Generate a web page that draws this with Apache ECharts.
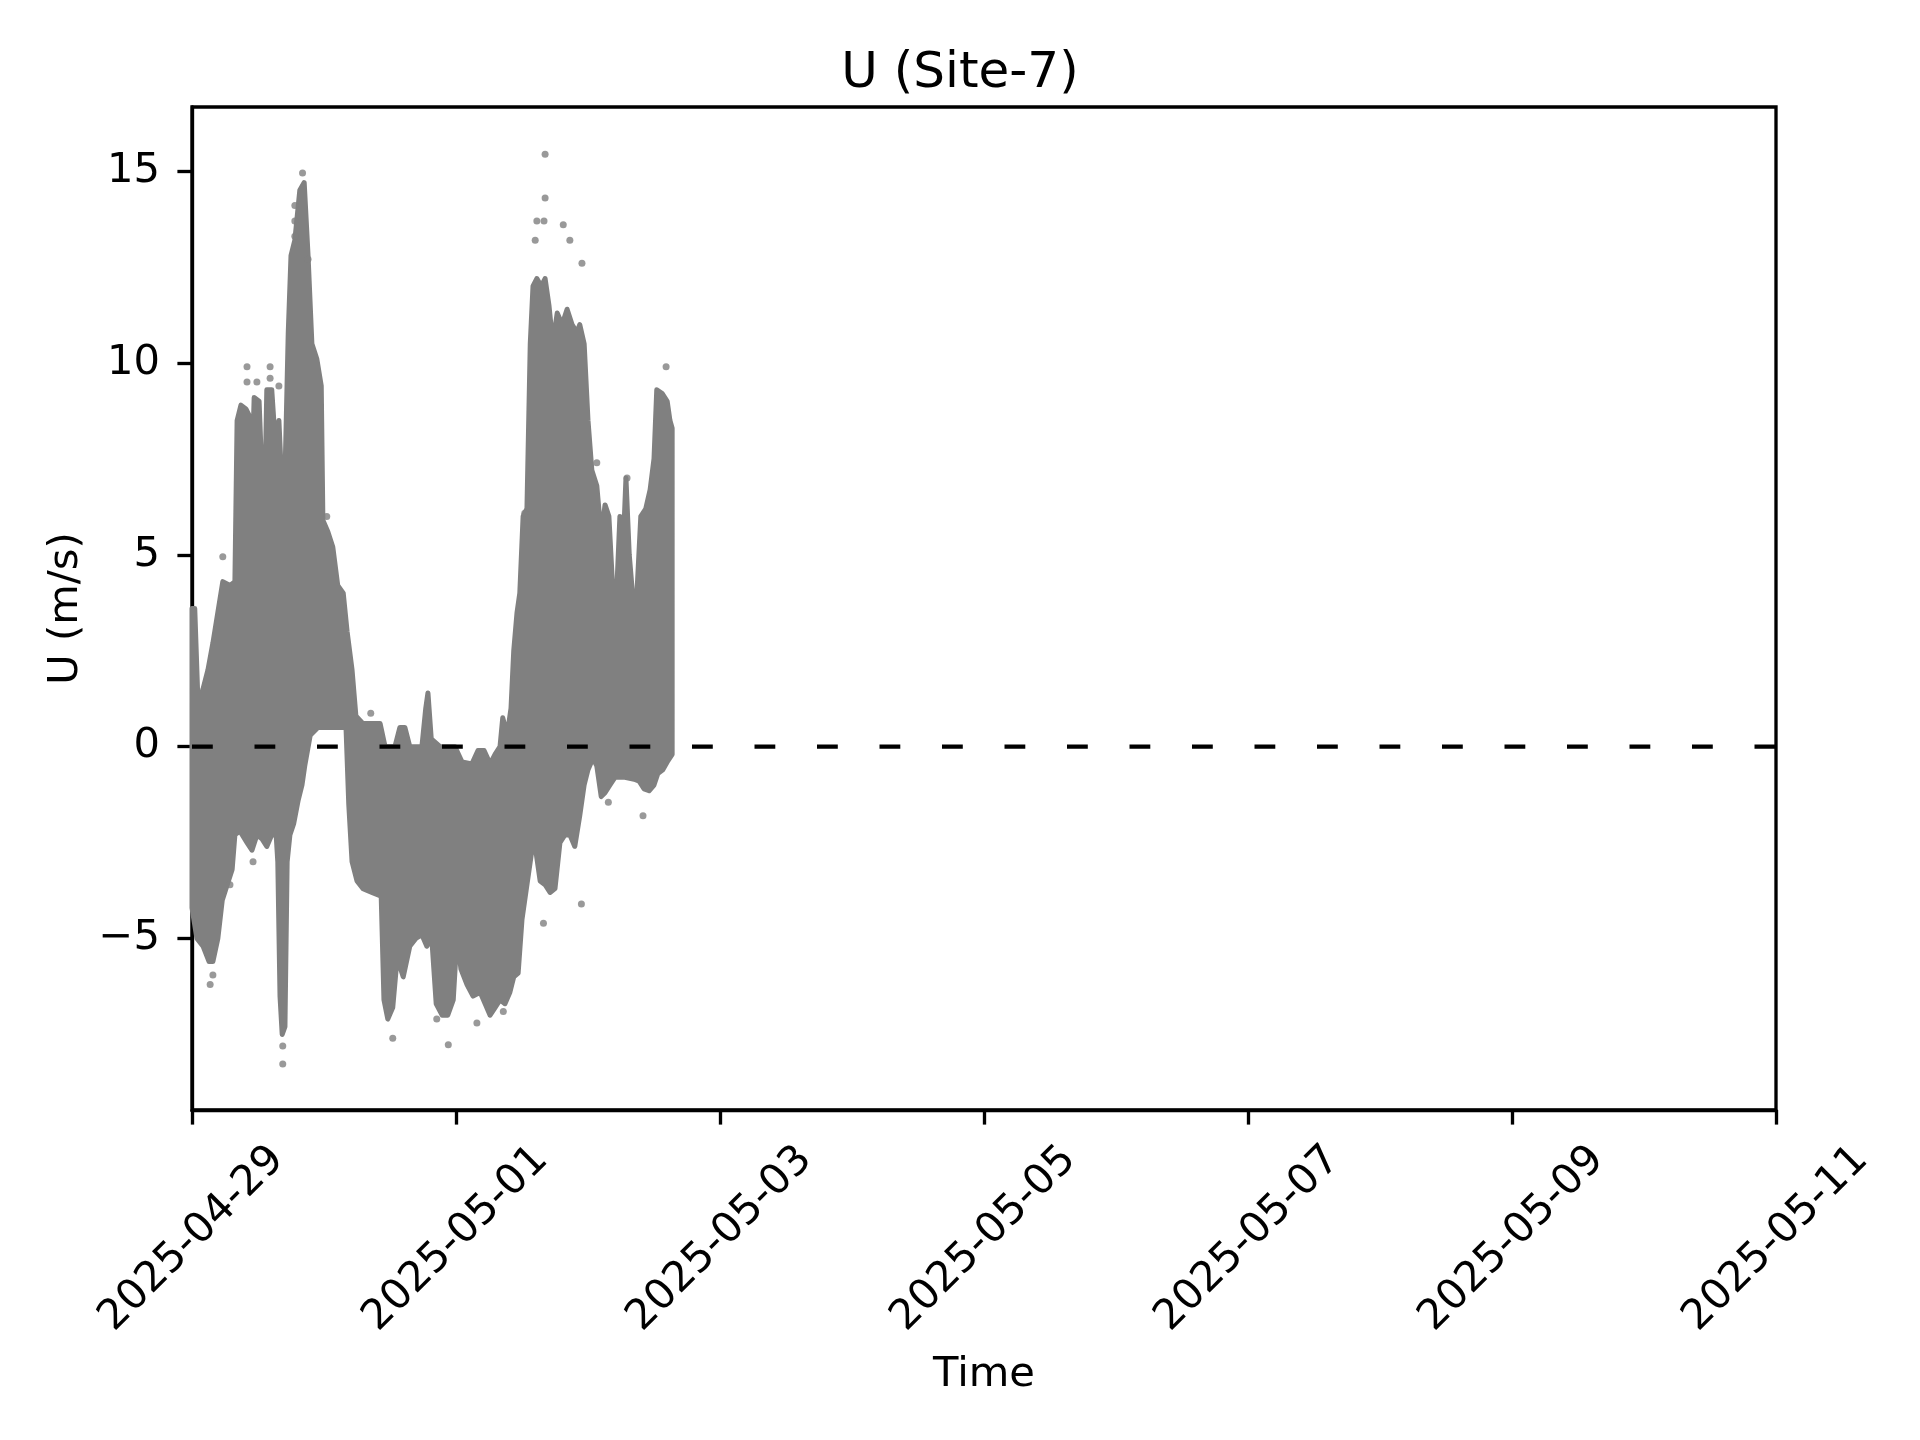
<!DOCTYPE html>
<html><head><meta charset="utf-8">
<script src="https://cdn.jsdelivr.net/npm/echarts@6/dist/echarts.min.js"></script>
<style>html,body{margin:0;padding:0;background:#fff}#c{width:1920px;height:1440px}</style>
</head><body><div id="c"></div>
<script>
// Hours since 2025-04-29 00:00 and U (m/s): upper envelope of the point cloud
const upperHours = [0.0,0.5,1.1,2.0,2.9,3.8,4.7,5.6,6.9,7.8,8.2,8.9,9.8,10.5,10.9,11.3,12.2,12.7,13.3,13.6,14.5,15.1,15.8,16.4,16.9,17.5,18.0,18.7,19.6,20.4,21.1,21.8,22.7,23.5,23.8,24.7,25.6,26.5,27.5,28.2,29.1,29.8,31.1,34.2,35.1,36.9,37.8,38.7,39.6,41.8,42.5,42.9,43.5,45.1,47.8,49.1,50.9,52.0,53.1,54.2,55.1,56.0,56.5,57.3,58.0,58.5,59.1,59.6,60.2,60.9,61.5,62.0,62.7,63.5,64.2,64.9,65.6,66.4,67.3,68.2,69.1,70.0,70.5,71.3,72.0,72.7,73.6,74.4,75.1,75.8,76.5,77.3,77.8,78.4,78.9,79.5,80.2,80.9,81.6,82.5,83.3,84.0,84.5,85.5,86.4,86.9,87.3];
const upperVals  = [3.6,3.6,1.1,1.5,2.0,2.7,3.5,4.3,4.2,4.3,8.5,8.9,8.8,8.6,7.0,9.1,9.0,7.1,7.0,9.3,9.3,8.0,8.5,6.6,7.0,10.8,12.8,13.2,14.5,14.7,12.8,10.5,10.1,9.4,5.9,5.6,5.2,4.2,4.0,3.0,2.0,0.8,0.6,0.6,0.0,0.0,0.5,0.5,0.0,0.0,1.0,1.4,0.2,0.0,0.0,-0.4,-0.45,-0.1,-0.1,-0.45,-0.2,0.0,0.75,0.3,1.0,2.5,3.5,4.0,6.0,6.2,10.5,12.0,12.2,12.0,12.2,11.5,10.5,11.3,11.0,11.4,11.0,10.8,11.0,10.5,8.5,7.2,6.8,5.5,6.3,6.0,4.1,4.3,6.0,5.2,7.0,5.0,3.8,4.0,6.0,6.2,6.7,7.5,9.3,9.2,9.0,8.5,8.3];
// lower envelope
const lowerHours = [0.0,0.9,2.0,3.1,3.8,4.7,5.5,6.4,7.3,7.8,8.7,10.0,10.9,11.8,12.7,13.6,14.5,15.3,15.6,16.0,16.4,16.9,17.3,17.8,18.5,19.3,20.0,20.5,21.5,22.9,25.1,28.0,28.5,29.1,30.0,31.1,32.7,34.4,34.9,35.6,36.5,37.3,38.4,39.6,40.7,41.8,42.7,43.6,44.4,45.5,46.5,47.5,48.2,48.9,50.0,51.1,52.4,53.3,54.2,55.1,56.0,56.9,57.8,58.5,59.3,60.0,60.9,61.8,62.5,63.3,64.2,65.1,66.0,66.9,67.8,68.7,69.6,70.5,71.3,72.0,72.9,73.6,74.4,75.1,76.0,76.9,78.7,80.4,81.3,82.2,83.1,84.0,84.7,85.6,86.4,87.3];
const lowerVals  = [-4.2,-5.0,-5.2,-5.6,-5.6,-5.0,-4.0,-3.6,-3.2,-2.3,-2.2,-2.5,-2.7,-2.3,-2.4,-2.6,-2.3,-2.3,-3.0,-6.5,-7.5,-7.3,-3.0,-2.3,-2.0,-1.4,-1.0,-0.5,0.3,0.5,0.5,0.5,-1.5,-3.0,-3.5,-3.7,-3.8,-3.9,-6.6,-7.1,-6.8,-5.5,-6.0,-5.2,-5.0,-4.9,-5.2,-5.0,-6.7,-7.0,-7.0,-6.6,-4.9,-5.8,-6.2,-6.5,-6.4,-6.7,-7.0,-6.8,-6.6,-6.7,-6.4,-6.0,-5.9,-4.5,-3.6,-2.7,-2.7,-3.5,-3.6,-3.8,-3.7,-2.5,-2.3,-2.3,-2.6,-1.8,-1.0,-0.6,-0.3,-0.5,-1.3,-1.2,-1.0,-0.8,-0.8,-0.85,-0.9,-1.1,-1.15,-1.0,-0.7,-0.6,-0.4,-0.2];
// isolated points outside the dense band
const outlierHours = [5.6,10.0,10.0,11.8,14.2,14.2,15.8,18.7,18.7,18.7,20.1,21.1,24.5,32.5,60.5,62.7,62.4,64.2,64.2,64.0,67.5,68.7,70.9,73.6,79.1,86.2,3.3,3.8,6.9,11.1,16.5,16.5,36.5,44.5,46.6,51.8,56.6,63.9,70.8,75.7,82.0];
const outlierVals  = [4.95,9.9,9.5,9.5,9.9,9.6,9.4,14.1,13.7,13.3,14.95,12.7,6.0,0.87,6.08,13.7,13.2,15.44,14.3,13.7,13.6,13.2,12.6,7.4,7.0,9.9,-6.2,-5.95,-3.6,-3.0,-8.27,-7.8,-7.6,-7.1,-7.77,-7.2,-6.9,-4.6,-4.1,-1.45,-1.8];
// x axis in days since 2025-04-29
const xTickLabels = ['2025-04-29','2025-05-01','2025-05-03','2025-05-05','2025-05-07','2025-05-09','2025-05-11'];
const yTicks = [-5,0,5,10,15];
const zeroLine = [[0,0],[12,0]];

const FONT = 'DejaVu Sans';
const FS = 41.67;
const chart = echarts.init(document.getElementById('c'), null, {renderer:'canvas'});
chart.setOption({
  animation: false,
  backgroundColor: '#ffffff',
  title: {
    text: 'U (Site-7)', left: 'center', top: 44,
    textStyle: {fontFamily: FONT, fontSize: 50, fontWeight: 'normal', color: '#000'}
  },
  grid: {left: 192, right: 144, top: 107, bottom: 330, show: true, borderColor: '#000', borderWidth: 3.33, containLabel: false},
  xAxis: {
    type: 'value', min: 0, max: 12, interval: 2,
    name: 'Time', nameLocation: 'middle', nameGap: 244,
    nameTextStyle: {fontFamily: FONT, fontSize: FS, color: '#000'},
    axisLine: {show: true, onZero: false, lineStyle: {color: '#000', width: 3.33}},
    axisTick: {show: true, length: 14.6, lineStyle: {color: '#000', width: 3.33}},
    axisLabel: {
      rotate: 45, align: 'center', verticalAlign: 'middle', margin: 129,
      fontFamily: FONT, fontSize: FS, color: '#000',
      formatter: v => xTickLabels[Math.round(v / 2)]
    },
    splitLine: {show: false}
  },
  yAxis: {
    type: 'value', min: -9.47, max: 16.67,
    name: 'U (m/s)', nameLocation: 'middle', nameGap: 105,
    nameTextStyle: {fontFamily: FONT, fontSize: FS, color: '#000'},
    axisLine: {show: true, onZero: false, lineStyle: {color: '#000', width: 3.33}},
    axisTick: {show: true, length: 14.6, customValues: yTicks, lineStyle: {color: '#000', width: 3.33}},
    axisLabel: {
      margin: 32, fontFamily: FONT, fontSize: FS, color: '#000', customValues: yTicks,
      formatter: v => (v < 0 ? '\u2212' + Math.abs(v) : String(v))
    },
    splitLine: {show: false}
  },
  series: [
    {
      type: 'custom', z: 2, silent: true,
      data: [[0, 0]],
      renderItem: function (params, api) {
        const pts = [];
        for (let i = 0; i < upperHours.length; i++) pts.push(api.coord([upperHours[i] / 24, upperVals[i]]));
        for (let i = lowerHours.length - 1; i >= 0; i--) pts.push(api.coord([lowerHours[i] / 24, lowerVals[i]]));
        return {type: 'polygon', shape: {points: pts},
          style: {fill: '#808080', stroke: '#808080', lineWidth: 5, lineJoin: 'round'}};
      }
    },
    {
      type: 'scatter', z: 3, silent: true, symbolSize: 7,
      itemStyle: {color: '#808080'},
      data: outlierHours.map((h, i) => [h / 24, outlierVals[i]])
    },
    {
      type: 'line', z: 5, silent: true, symbol: 'none',
      lineStyle: {color: '#000', width: 4.17, type: [20.8, 41.7]},
      data: zeroLine
    }
  ]
});
</script></body></html>
